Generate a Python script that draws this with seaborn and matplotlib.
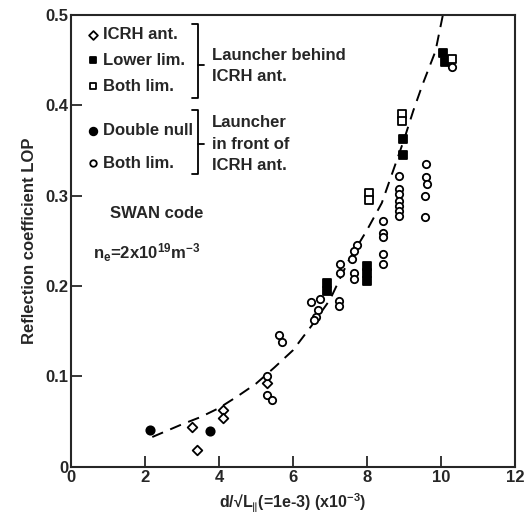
import numpy as np
import pandas as pd
import matplotlib
matplotlib.use("Agg")
import matplotlib.pyplot as plt
import seaborn as sns

# ---------------- data ----------------
icrh_x = [3.27, 3.40, 4.11, 4.11, 5.30]
icrh_y = [0.044, 0.019, 0.063, 0.054, 0.093]

lower_x = [6.92, 6.92, 8.00, 8.00, 8.00, 8.97, 8.97, 10.05, 10.10]
lower_y = [0.203, 0.195, 0.222, 0.214, 0.206, 0.363, 0.345, 0.458, 0.448]

bothb_x = [8.05, 8.05, 8.95, 8.95, 10.30]
bothb_y = [0.303, 0.295, 0.390, 0.383, 0.451]

dnull_x = [2.14, 3.76]
dnull_y = [0.041, 0.040]

bothf_x = [5.30, 5.30, 5.43, 5.62, 5.70,
           6.49, 6.73, 6.68, 6.62, 6.57,
           7.24, 7.24, 7.27, 7.27,
           7.73, 7.65, 7.60, 7.65, 7.65,
           8.43, 8.43, 8.43, 8.43, 8.43,
           8.86, 8.86, 8.86, 8.86, 8.86, 8.86, 8.86,
           9.60, 9.60, 9.62, 9.57, 9.57,
           10.30]
bothf_y = [0.101, 0.079, 0.074, 0.146, 0.138,
           0.182, 0.186, 0.174, 0.166, 0.162,
           0.184, 0.178, 0.225, 0.214,
           0.245, 0.239, 0.230, 0.215, 0.208,
           0.272, 0.259, 0.254, 0.236, 0.225,
           0.322, 0.308, 0.302, 0.294, 0.289, 0.283, 0.278,
           0.335, 0.321, 0.313, 0.300, 0.277,
           0.443]

curve_x = [2.2, 3.0, 3.5, 4.0, 4.5, 5.0, 5.5, 6.0, 6.5, 7.0, 7.5, 8.0,
           8.4, 8.7, 9.0, 9.25, 9.5, 9.85, 10.05]
curve_y = [0.033, 0.047, 0.055, 0.065, 0.078, 0.092, 0.110, 0.129, 0.156,
           0.185, 0.228, 0.262, 0.292, 0.327, 0.362, 0.394, 0.423, 0.46, 0.5]

xticks = [0, 2, 4, 6, 8, 10, 12]
xtick_labels = ["0", "2", "4", "6", "8", "10", "12"]
yticks = [0, 0.1, 0.2, 0.3, 0.4, 0.5]
ytick_labels = ["0", "0.1", "0.2", "0.3", "0.4", "0.5"]

# ---------------- style ----------------
sns.set_style("ticks")
plt.rcParams["font.family"] = ["Liberation Sans", "DejaVu Sans"]
plt.rcParams["font.weight"] = "bold"
plt.rcParams["axes.labelweight"] = "bold"
plt.rcParams["mathtext.fontset"] = "custom"
plt.rcParams["mathtext.rm"] = "Liberation Sans:bold"
plt.rcParams["mathtext.it"] = "Liberation Sans:bold"
plt.rcParams["mathtext.bf"] = "Liberation Sans:bold"

fig = plt.figure(figsize=(5.25, 5.21), dpi=100)
ax = fig.add_axes([0.135, 0.104, 0.846, 0.867])

ms = 28
lw = 1.3
sns.lineplot(x=curve_x, y=curve_y, ax=ax, color="black", lw=1.4,
             linestyle=(0, (6, 4)), sort=True)
sns.scatterplot(x=icrh_x, y=icrh_y, ax=ax, marker="D", s=24,
                facecolor="white", edgecolor="black", linewidth=lw, zorder=3)
sns.scatterplot(x=lower_x, y=lower_y, ax=ax, marker="s", s=ms,
                facecolor="black", edgecolor="black", linewidth=lw, zorder=3)
sns.scatterplot(x=bothb_x, y=bothb_y, ax=ax, marker="s", s=ms,
                facecolor="white", edgecolor="black", linewidth=lw, zorder=3)
sns.scatterplot(x=dnull_x, y=dnull_y, ax=ax, marker="o", s=ms + 8,
                facecolor="black", edgecolor="black", linewidth=lw, zorder=3)
sns.scatterplot(x=bothf_x, y=bothf_y, ax=ax, marker="o", s=ms,
                facecolor="white", edgecolor="black", linewidth=lw, zorder=3)

ax.set_xlim(0, 12)
ax.set_ylim(0, 0.5)
ax.set_xticks(xticks)
ax.set_xticklabels(xtick_labels)
ax.set_yticks(yticks)
ax.set_yticklabels(ytick_labels)
ax.tick_params(direction="in", length=8, width=1.3, labelsize=12, pad=2)
for lab in ax.get_xticklabels() + ax.get_yticklabels():
    lab.set_fontweight("bold")
for sp in ax.spines.values():
    sp.set_visible(True)
    sp.set_linewidth(1.5)

ax.set_xlabel("d/√L$_{∥}$(=1e-3) (x10$^{-3}$)", fontsize=11.5, labelpad=5,
              fontweight="bold")
ax.set_ylabel("Reflection coefficient LOP", fontsize=12, labelpad=6,
              fontweight="bold")

# ---------------- in-plot legend ----------------
fs = 12
leg_items = [
    (0.60, 0.478, "D", "white", "ICRH ant.", 20),
    (0.60, 0.450, "s", "black", "Lower lim.", 22),
    (0.60, 0.421, "s", "white", "Both lim.", 22),
    (0.60, 0.372, "o", "black", "Double null", 30),
    (0.60, 0.336, "o", "white", "Both lim.", 22),
]
for x, y, m, fc, label, s in leg_items:
    ax.scatter([x], [y], marker=m, s=s,
               facecolor=fc, edgecolor="black", linewidth=lw, zorder=3)
    ax.text(x + 0.28, y, label, fontsize=fs, va="center", ha="left")

def bracket(x, y0, y1, ym):
    ax.plot([x - 0.15, x, x, x - 0.15], [y1, y1, y0, y0], color="black", lw=1.3)
    ax.plot([x, x + 0.18], [ym, ym], color="black", lw=1.3)

bracket(3.43, 0.408, 0.490, 0.445)
bracket(3.43, 0.324, 0.395, 0.357)
ax.text(3.82, 0.455, "Launcher behind", fontsize=fs, va="center", ha="left")
ax.text(3.82, 0.432, "ICRH ant.", fontsize=fs, va="center", ha="left")
ax.text(3.82, 0.381, "Launcher", fontsize=fs, va="center", ha="left")
ax.text(3.82, 0.357, "in front of", fontsize=fs, va="center", ha="left")
ax.text(3.82, 0.333, "ICRH ant.", fontsize=fs, va="center", ha="left")

ax.text(1.05, 0.280, "SWAN code", fontsize=fs, va="center", ha="left")
ax.text(0.60, 0.237, "n$_{e}$=2x10$^{19}$m$^{-3}$", fontsize=fs, va="center", ha="left")

fig.savefig("out.png", dpi=100)
